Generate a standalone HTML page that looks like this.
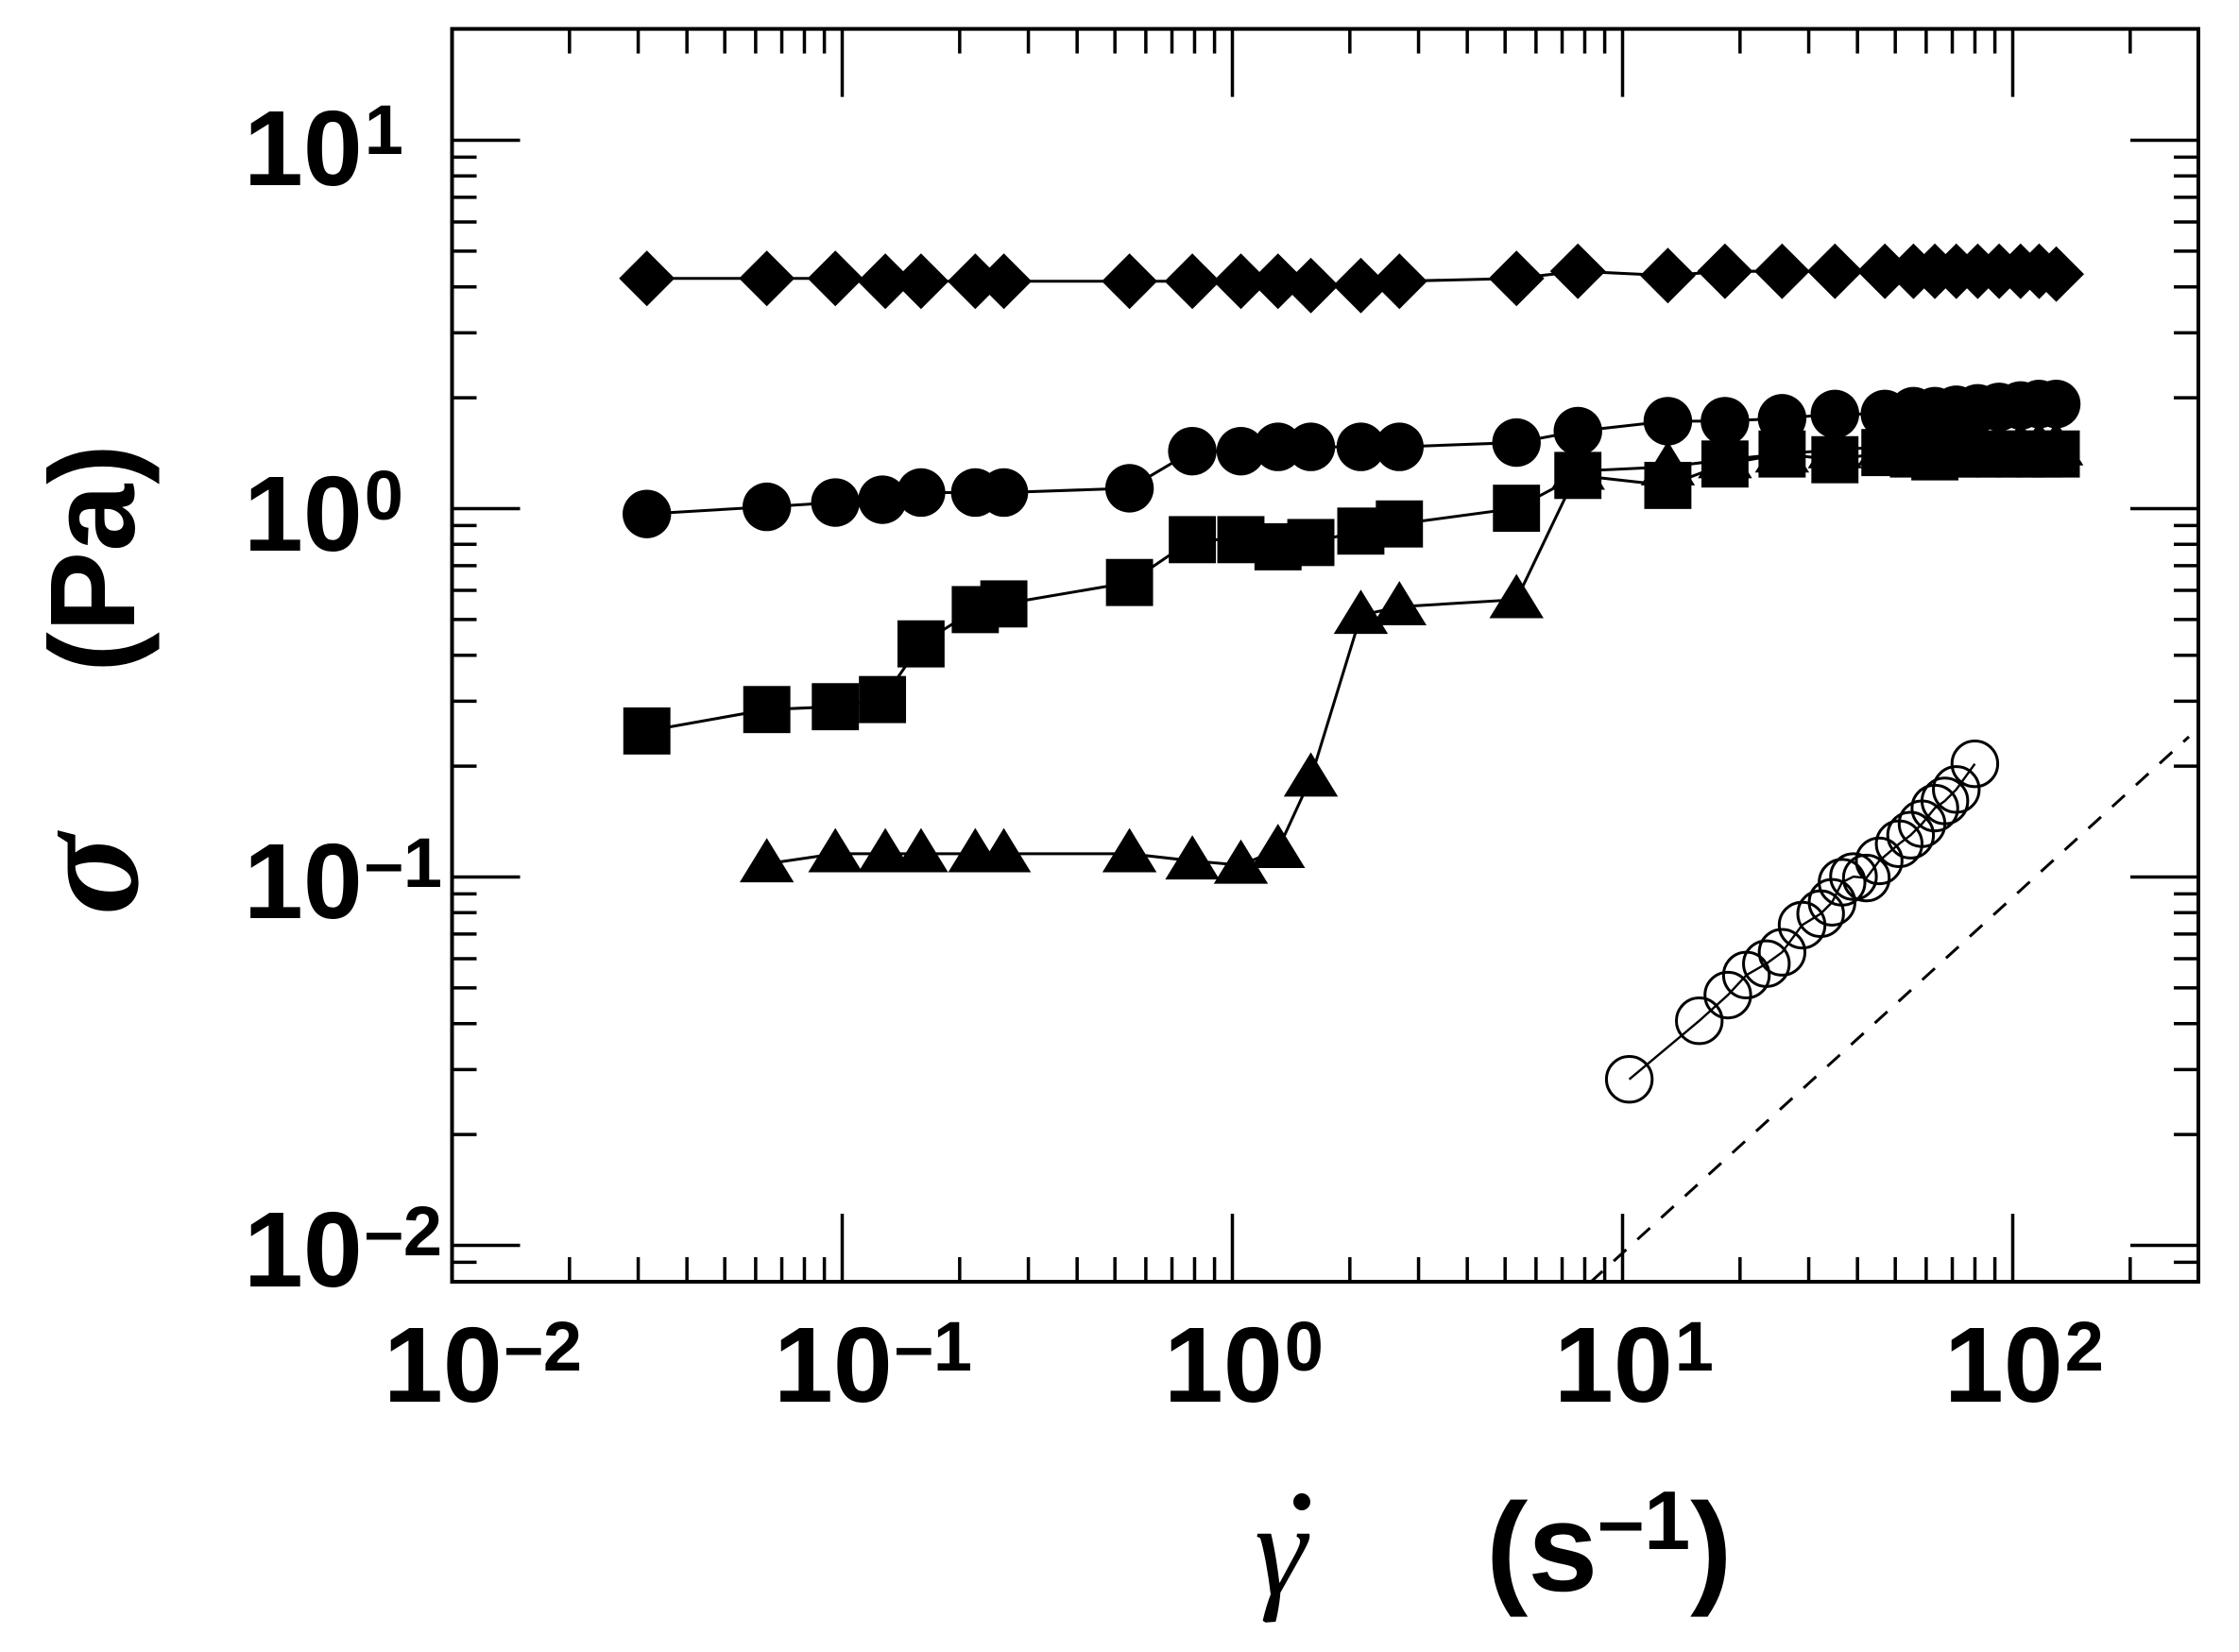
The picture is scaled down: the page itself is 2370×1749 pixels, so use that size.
<!DOCTYPE html>
<html><head><meta charset="utf-8"><style>
html,body{margin:0;padding:0;background:#fff;}
svg{display:block;}
text{font-family:"Liberation Sans",sans-serif;font-weight:bold;fill:#000;}
</style></head><body>
<svg width="2370" height="1749" viewBox="0 0 2370 1749" xmlns="http://www.w3.org/2000/svg">
<rect width="2370" height="1749" fill="#fff"/>
<g id="ticks" stroke="#000" stroke-width="3.5"></g>
<rect x="478.5" y="30.6" width="1848.5" height="1326.4" fill="none" stroke="#000" stroke-width="4"/>
<line x1="1683" y1="1358" x2="2317" y2="780" stroke="#000" stroke-width="3" stroke-dasharray="18,16"/>
<g id="data" transform="scale(1.5115)"></g>
<g font-size="113">
<text x="406" y="1484">10<tspan font-size="74" dy="-33" dx="2">–2</tspan></text>
<text x="819" y="1484">10<tspan font-size="74" dy="-33" dx="2">–1</tspan></text>
<text x="1232" y="1484">10<tspan font-size="74" dy="-33" dx="2">0</tspan></text>
<text x="1645" y="1484">10<tspan font-size="74" dy="-33" dx="2">1</tspan></text>
<text x="2058" y="1484">10<tspan font-size="74" dy="-33" dx="2">2</tspan></text>
</g>
<g font-size="113">
<text x="258" y="196">10<tspan font-size="74" dy="-33" dx="2">1</tspan></text>
<text x="258" y="583">10<tspan font-size="74" dy="-33" dx="2">0</tspan></text>
<text x="258" y="972">10<tspan font-size="74" dy="-33" dx="2">–1</tspan></text>
<text x="258" y="1362">10<tspan font-size="74" dy="-33" dx="2">–2</tspan></text>
</g>
<text transform="translate(142,591) rotate(-90)" text-anchor="middle" font-size="128">(Pa)</text>
<text transform="translate(145,926) rotate(-90)" text-anchor="middle" font-size="160" style="font-family:'Liberation Serif',serif;font-style:italic;font-weight:bold">σ</text>
<text x="1328" y="1688" font-size="140" style="font-family:'Liberation Serif',serif;font-style:italic;font-weight:normal">γ</text>
<circle cx="1378" cy="1590" r="9" fill="#000"/>
<text x="1573" y="1684" font-size="133">(s<tspan font-size="88" dy="-44">–1</tspan><tspan dy="44">)</tspan></text>
</svg>
<script>
(function(){
var NS="http://www.w3.org/2000/svg";
var tg=document.getElementById('ticks');
function ln(x1,y1,x2,y2){var l=document.createElementNS(NS,'line');l.setAttribute('x1',x1);l.setAttribute('y1',y1);l.setAttribute('x2',x2);l.setAttribute('y2',y2);tg.appendChild(l);}
var L=478.5,R=2327,T=30.6,B=1357;
function X(lg){return L+413*(lg+2);}
function Y(lg){return 538.5-390*lg;}
for(var e=-2;e<=2;e++){
 for(var m=1;m<=9;m++){
  var x=X(e+Math.log10(m)); if(x>R-2)continue;
  var len=(m==1)?72:26;
  ln(x,B,x,B-len); ln(x,T,x,T+len);
 }
}
for(var e=-3;e<=1;e++){
 for(var m=1;m<=9;m++){
  var y=Y(e+Math.log10(m)); if(y<T+2||y>B-2)continue;
  var len=(m==1)?72:26;
  ln(L,y,L+len,y); ln(R,y,R-len,y);
 }
}
var dg=document.getElementById('data');
function el(n,a){var e=document.createElementNS(NS,n);for(var k in a)e.setAttribute(k,a[k]);dg.appendChild(e);return e;}
function line(pts,w){el('polyline',{points:pts.map(function(p){return p.join(',')}).join(' '),fill:'none',stroke:'#000','stroke-width':w||2});}
var D=[[453,195],[537,195],[585,195],[620,197],[645,197],[683,197],[703,197],[791,197],[835,197],[869,197],[895,197],[918,200],[953,200],[980,197],[1062,195],[1105,190],[1168,193],[1208,190],[1248,190],[1285,190],[1320,190],[1340,190],[1355,190],[1370,190],[1385,190],[1400,190],[1415,190],[1428,190],[1440,192]];
var C=[[453,360],[537,355],[585,352],[618,350],[645,345],[683,345],[703,345],[791,342],[835,316],[869,316],[895,313],[918,313],[953,313],[980,313],[1062,310],[1105,302],[1168,295],[1208,295],[1248,293],[1285,290],[1320,290],[1340,288],[1355,288],[1370,287],[1385,286],[1400,285],[1415,284],[1428,283],[1440,283]];
var S=[[453,512],[537,497],[585,495],[618,490],[645,451],[683,427],[703,423],[791,408],[835,378],[869,378],[895,383],[918,380],[953,372],[980,367],[1062,356],[1105,333],[1168,340],[1208,325],[1248,318],[1285,322],[1320,317],[1340,318],[1355,320],[1370,318],[1385,318],[1400,318],[1415,318],[1428,318],[1440,318]];
var Tr=[[537,605],[585,598],[620,598],[645,598],[683,598],[703,598],[791,598],[835,603],[869,606],[895,595],[918,545],[953,431],[980,425],[1062,420],[1105,330],[1168,327],[1208,322],[1248,318],[1285,315],[1320,313],[1340,313],[1355,313],[1370,313],[1385,313],[1400,313],[1415,313],[1428,313],[1440,313]];
var O=[[1141,756],[1190,715],[1210,697],[1223,683],[1237,675],[1248,667],[1262,648],[1275,640],[1283,632],[1290,618],[1298,614],[1307,615],[1316,603],[1330,591],[1338,585],[1346,577],[1355,566],[1362,561],[1370,553],[1383,535]];
line(D);line(C);line(S);line(Tr);
D.forEach(function(p){el('polygon',{points:[p[0]-19.5,p[1],p[0],p[1]-19.5,p[0]+19.5,p[1],p[0],p[1]+19.5].join(' '),fill:'#000'});});
C.forEach(function(p){el('circle',{cx:p[0],cy:p[1],r:17,fill:'#000'});});
S.forEach(function(p){el('rect',{x:p[0]-16.5,y:p[1]-16.5,width:33,height:33,fill:'#000'});});
Tr.forEach(function(p){el('polygon',{points:[p[0]-19,p[1]+13,p[0],p[1]-18,p[0]+19,p[1]+13].join(' '),fill:'#000'});});
line(O,1.6);
O.forEach(function(p){el('circle',{cx:p[0],cy:p[1],r:16,fill:'none',stroke:'#000','stroke-width':2});});
})();
</script>
</body></html>
